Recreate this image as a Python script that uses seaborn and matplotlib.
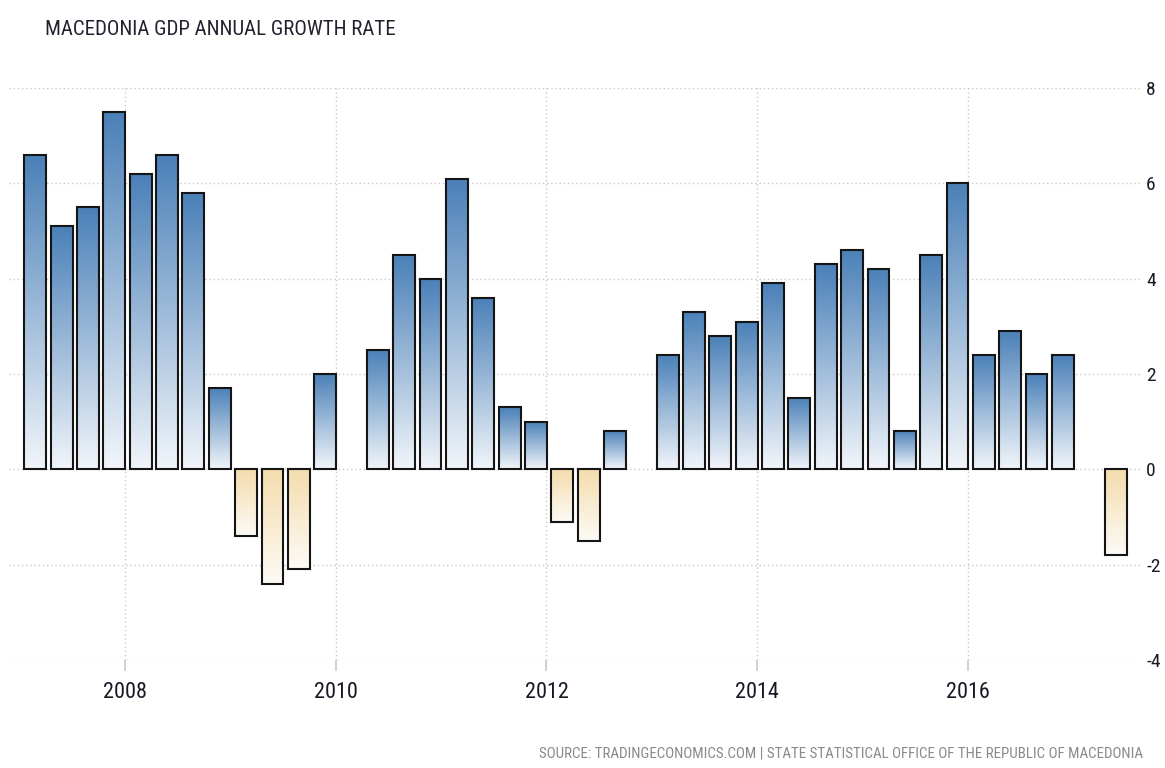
import numpy as np
import pandas as pd
import matplotlib
matplotlib.use("Agg")
import matplotlib.pyplot as plt
import seaborn as sns
from matplotlib import font_manager
from matplotlib.colors import LinearSegmentedColormap

# ---- data ----
quarters = ["2007Q1", "2007Q2", "2007Q3", "2007Q4",
            "2008Q1", "2008Q2", "2008Q3", "2008Q4",
            "2009Q1", "2009Q2", "2009Q3", "2009Q4",
            "2010Q1", "2010Q2", "2010Q3", "2010Q4",
            "2011Q1", "2011Q2", "2011Q3", "2011Q4",
            "2012Q1", "2012Q2", "2012Q3", "2012Q4",
            "2013Q1", "2013Q2", "2013Q3", "2013Q4",
            "2014Q1", "2014Q2", "2014Q3", "2014Q4",
            "2015Q1", "2015Q2", "2015Q3", "2015Q4",
            "2016Q1", "2016Q2", "2016Q3", "2016Q4",
            "2017Q1", "2017Q2"]
growth = [6.6, 5.1, 5.5, 7.5,
          6.2, 6.6, 5.8, 1.7,
          -1.4, -2.4, -2.1, 2.0,
          0.0, 2.5, 4.5, 4.0,
          6.1, 3.6, 1.3, 1.0,
          -1.1, -1.5, 0.8, 0.0,
          2.4, 3.3, 2.8, 3.1,
          3.9, 1.5, 4.3, 4.6,
          4.2, 0.8, 4.5, 6.0,
          2.4, 2.9, 2.0, 2.4,
          0.0, -1.8]
year_ticks = [2008, 2010, 2012, 2014, 2016]
y_ticks = [-4, -2, 0, 2, 4, 6, 8]

title = "MACEDONIA GDP ANNUAL GROWTH RATE"
source = "SOURCE: TRADINGECONOMICS.COM | STATE STATISTICAL OFFICE OF THE REPUBLIC OF MACEDONIA"

# bars sit just before the end of each quarter
df = pd.DataFrame({"quarter": quarters, "growth": growth})
df["x"] = df["quarter"].str[:4].astype(int) + df["quarter"].str[-1].astype(int) / 4 - 0.1

# pick a narrow font if one is around
narrow = "DejaVu Sans"
for name in ["Liberation Sans Narrow", "Roboto Condensed", "DejaVu Sans Condensed"]:
    try:
        font_manager.findfont(name, fallback_to_default=False)
        narrow = name
        break
    except Exception:
        pass
condensed = narrow != "DejaVu Sans"

sns.set_style("white")
plt.rcParams["font.family"] = [narrow, "DejaVu Sans"]

fig = plt.figure(figsize=(11.65, 7.68), dpi=100)
ax = fig.add_axes([0.0077, 0.1406, 0.9725, 0.7448])

sns.barplot(data=df, x="x", y="growth", native_scale=True, width=0.83,
            color="#4a80b8", edgecolor="#151515", linewidth=1.5, ax=ax, zorder=3)

# gradient fill per bar
blue_cmap = LinearSegmentedColormap.from_list("b", ["#f1f5fa", "#4a80b8"])
tan_cmap = LinearSegmentedColormap.from_list("t", ["#fdfbf6", "#f4dcad"])
grad = np.linspace(0, 1, 256).reshape(-1, 1)
for p in list(ax.patches):
    h = p.get_height()
    if abs(h) < 1e-9:
        p.set_visible(False)
        continue
    x0, y0 = p.get_x(), p.get_y()
    w = p.get_width()
    y_lo, y_hi = min(y0, y0 + h), max(y0, y0 + h)
    cmap = blue_cmap if h > 0 else tan_cmap
    im = ax.imshow(grad, cmap=cmap, origin="lower", aspect="auto",
                   extent=(x0, x0 + w, y_lo, y_hi), zorder=2, interpolation="bilinear")
    im.set_clip_path(p)
    p.set_facecolor("none")

ax.set_xlim(2006.90, 2017.65)
ax.set_ylim(-4, 8)
ax.set_aspect("auto")

# grid
ax.set_yticks(y_ticks)
ax.set_xticks(year_ticks)
ax.grid(True, color="#c9c9c9", linestyle=(0, (1, 2)), linewidth=1.0, zorder=0)
ax.set_axisbelow(True)
for s in ax.spines.values():
    s.set_visible(False)

ax.yaxis.tick_right()
ax.tick_params(axis="y", length=0, pad=3, labelsize=14 if condensed else 11.5,
               labelcolor="#191926")
ax.tick_params(axis="x", length=8, width=1.2, color="#c9c9c9", pad=8,
               labelsize=16 if condensed else 13, labelcolor="#191926", bottom=True)
ax.set_yticklabels([str(v) for v in y_ticks])
ax.set_xticklabels([str(v) for v in year_ticks])
ax.set_xlabel("")
ax.set_ylabel("")

fig.text(0.039, 0.962, title, fontsize=15 if condensed else 12, color="#22222f",
         ha="left", va="center")
fig.text(0.981, 0.010, source, fontsize=10.8 if condensed else 8.8, color="#8a8a8a",
         ha="right", va="bottom")

fig.savefig("out.png", dpi=100)
